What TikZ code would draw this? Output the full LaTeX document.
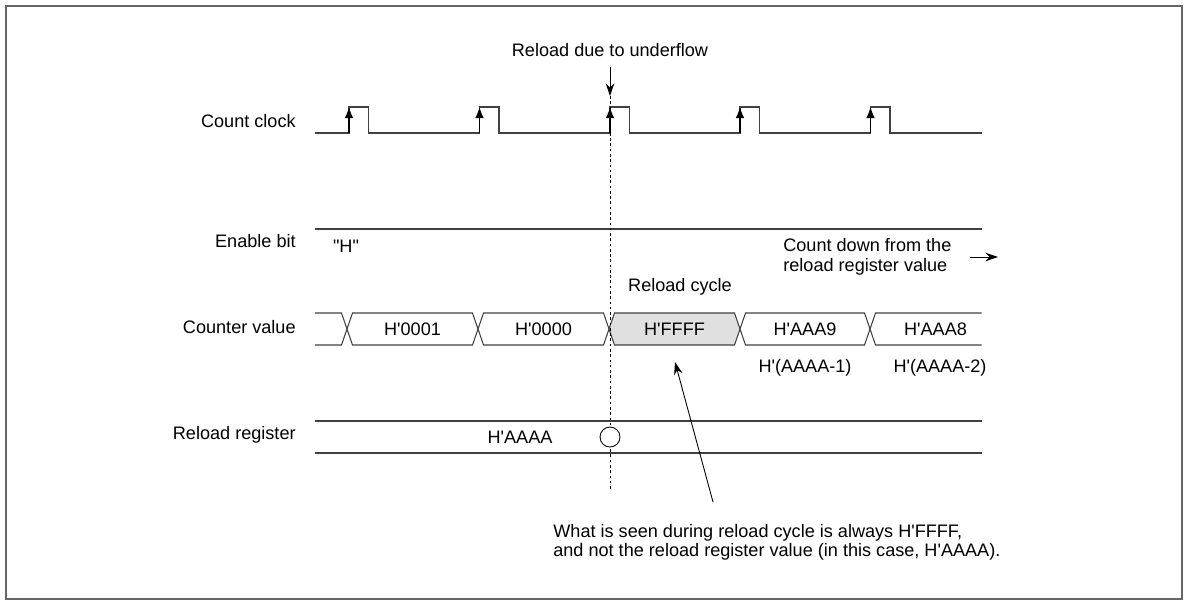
\documentclass[tikz,border=0pt]{standalone}
\usepackage{fontspec}
\newfontfamily\sigfont{Liberation Sans}
\usepackage{tikz}
\usetikzlibrary{arrows.meta, positioning}

\begin{document}
\begin{tikzpicture}[
  x=0.02cm, y=-0.02cm,
  every node/.style={font=\sigfont\fontsize{10.3}{11.4}\selectfont, inner sep=0pt},
  siglabel/.style={anchor=east},
  wave/.style={draw=black!75, line width=0.6pt},
  edgearrow/.style={-{Latex[length=2.2mm, width=1.7mm]}, line width=0.6pt},
  arrow/.style={-{Stealth[length=2.5mm, width=1.7mm]}, line width=0.5pt},
  marker/.style={dash pattern=on 1.5pt off 1.5pt, line width=0.4pt},
  probe/.style={circle, draw, fill=white, minimum size=0.4cm, line width=0.5pt}
]
\useasboundingbox (0,0) rectangle (1185,600);
\draw[black!60, line width=1.2pt] (6,6) rectangle (1182,599);

% Signal names
\node[siglabel] (clk) at (296,121) {Count clock};
\node[siglabel] (en) at (296,241) {Enable bit};
\node[siglabel] (cnt) at (296,327) {Counter value};
\node[siglabel] (rld) at (296,435) {Reload register};

% Count clock
\draw[wave] (315,133)
  \foreach \r in {349,479.5,610,740,870.5}{ -- (\r,133) -- (\r,107) -- (\r+19.5,107) -- (\r+19.5,133) }
  -- (981.5,133);
\foreach \r in {349,479.5,610,740,870.5}
  \draw[edgearrow] (\r,133) -- (\r,107);

% Enable bit
\draw[wave] (315,229) -- (981.5,229);
\node (hlevel) at (346,246) {"H"};

% Counter value
\fill[black!12] (609,329) -- (614.5,313) -- (734.5,313) -- (740,329) -- (734.5,345) -- (614.5,345) -- cycle;
\draw[wave] (315,313) -- (341.5,313) -- (347,329) -- (341.5,345) -- (315,345);
\foreach \a/\b in {347/478, 478/609, 609/740, 740/870}
  \draw[wave] (\a,329) -- (\a+5.5,313) -- (\b-5.5,313) -- (\b,329) -- (\b-5.5,345) -- (\a+5.5,345) -- cycle;
\draw[wave] (981.5,313) -- (875.5,313) -- (870,329) -- (875.5,345) -- (981.5,345);
\node (v1) at (412.5,329) {H'0001};
\node (v0) at (543.5,329) {H'0000};
\node (vf) at (674.5,329) {H'FFFF};
\node (v9) at (805,329) {H'AAA9};
\node (v8) at (935.5,329) {H'AAA8};
\node (d1) at (805,368) {H'(AAAA-1)};
\node (d2) at (940,368) {H'(AAAA-2)};
\node (cycle) at (680,287) {Reload cycle};
\node[anchor=west, align=left, font=\sigfont\fontsize{10.3}{11.4}\selectfont] (countdown) at (783,257) {Count down from the\\reload register value};

% Reload register
\draw[wave] (315,421) -- (981.5,421);
\draw[wave] (315,453) -- (981.5,453);
\node (regval) at (520,437) {H'AAAA};

% Underflow marker
\node (underflow) at (610,50) {Reload due to underflow};
\coordinate (uf) at (610,96);
\coordinate (ufend) at (610,490);
\draw[marker] (uf) -- (ufend);
\node[probe] (load) at (610,437) {};

% Note
\node[anchor=west, align=left, font=\sigfont\fontsize{10.3}{10.8}\selectfont] (note) at (553,542)
  {What is seen during reload cycle is always H'FFFF,\\and not the reload register value (in this case, H'AAAA).};
\coordinate (notefoot) at (713,502);
\coordinate (notetip) at (675,362);
\coordinate (cdend) at (998,257);

% Arrows
\draw[arrow] (underflow.south) ++(0,10) -- (uf);
\draw[arrow] (countdown.east) ++(18,0) -- (cdend);
\draw[arrow] (notefoot) -- (notetip);

\end{tikzpicture}
\end{document}
